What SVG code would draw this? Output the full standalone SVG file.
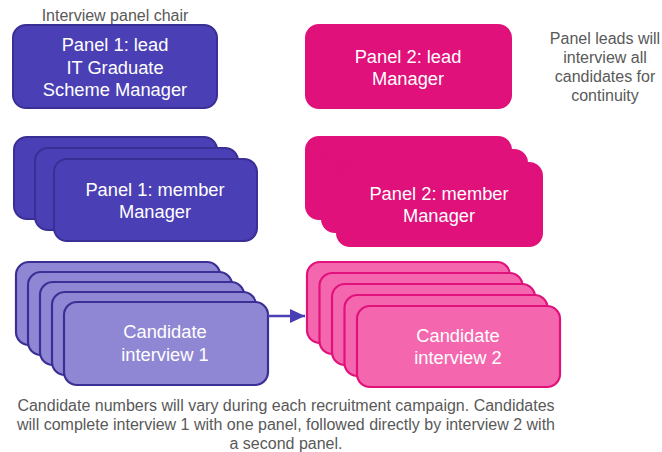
<svg xmlns="http://www.w3.org/2000/svg" width="662" height="452" viewBox="0 0 662 452">
<defs>
<style>
text{font-family:"Liberation Sans",Arial,sans-serif;text-anchor:middle}
.wt{fill:#ffffff;font-size:18.3px}
.gt{fill:#595959;font-size:16px}
.p1{fill:#4B3FB5;stroke:#3A2F95;stroke-width:2}
.p2{fill:#E0117A;stroke:#E0117A;stroke-width:2}
.c1{fill:#8F87D4;stroke:#3A2F95;stroke-width:2.2}
.c2{fill:#F467AE;stroke:#E0117A;stroke-width:2.2}
</style>
<marker id="ah" markerWidth="15" markerHeight="14" refX="15" refY="7" orient="auto" markerUnits="userSpaceOnUse">
<path d="M0,0 L15,7 L0,14 Z" fill="#4B3FB5"/>
</marker>
</defs>
<rect width="662" height="452" fill="#ffffff"/>

<text class="gt" x="115" y="21">Interview panel chair</text>

<g id="panel1-lead">
<rect class="p1" x="13" y="25" width="204" height="83" rx="13"/>
<text class="wt" x="115" y="51">Panel 1: lead</text>
<text class="wt" x="115" y="74">IT Graduate</text>
<text class="wt" x="115" y="96">Scheme Manager</text>
</g>

<g id="panel1-member">
<rect class="p1" x="14" y="137" width="203" height="82" rx="13"/>
<rect class="p1" x="35" y="148" width="203" height="82" rx="13"/>
<rect class="p1" x="54" y="159" width="203" height="82" rx="13"/>
<text class="wt" x="155" y="196">Panel 1: member</text>
<text class="wt" x="155" y="218">Manager</text>
</g>

<g id="panel2-lead">
<rect class="p2" x="306" y="25" width="205" height="83" rx="13"/>
<text class="wt" x="408" y="63">Panel 2: lead</text>
<text class="wt" x="408" y="85">Manager</text>
</g>

<g id="panel2-member">
<rect class="p2" x="306" y="137" width="205" height="82" rx="13"/>
<rect class="p2" x="322" y="150" width="205" height="82" rx="13"/>
<rect class="p2" x="337" y="163" width="205" height="83" rx="13"/>
<text class="wt" x="439" y="200">Panel 2: member</text>
<text class="wt" x="439" y="222">Manager</text>
</g>

<g id="note-right">
<text class="gt" x="605" y="44">Panel leads will</text>
<text class="gt" x="605" y="63">interview all</text>
<text class="gt" x="605" y="82">candidates for</text>
<text class="gt" x="605" y="101">continuity</text>
</g>

<g id="candidate-1">
<rect class="c1" x="16" y="262" width="204" height="83" rx="13"/>
<rect class="c1" x="28" y="272" width="204" height="83" rx="13"/>
<rect class="c1" x="40" y="282" width="204" height="83" rx="13"/>
<rect class="c1" x="52" y="292" width="204" height="83" rx="13"/>
<rect class="c1" x="64" y="302" width="204" height="83" rx="13"/>
<text class="wt" x="165" y="338">Candidate</text>
<text class="wt" x="165" y="361">interview 1</text>
</g>

<g id="candidate-2">
<rect class="c2" x="307" y="262" width="203" height="81" rx="13"/>
<rect class="c2" x="319.5" y="273" width="203" height="81" rx="13"/>
<rect class="c2" x="332" y="284" width="203" height="81" rx="13"/>
<rect class="c2" x="344.5" y="295" width="203" height="81" rx="13"/>
<rect class="c2" x="357" y="306" width="203" height="81" rx="13"/>
<text class="wt" x="458" y="342">Candidate</text>
<text class="wt" x="458" y="364">interview 2</text>
</g>

<g id="connectors">
<line x1="268" y1="316" x2="305" y2="316" stroke="#4B3FB5" stroke-width="2.5" marker-end="url(#ah)"/>
</g>

<g id="note-bottom">
<text class="gt" x="286" y="411">Candidate numbers will vary during each recruitment campaign. Candidates</text>
<text class="gt" x="286" y="430">will complete interview 1 with one panel, followed directly by interview 2 with</text>
<text class="gt" x="286" y="449">a second panel.</text>
</g>
</svg>
